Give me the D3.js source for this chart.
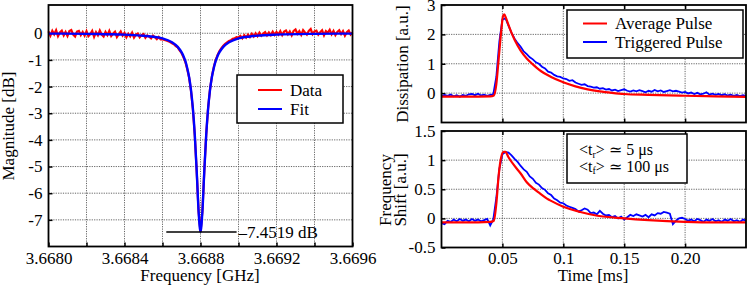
<!DOCTYPE html>
<html><head><meta charset="utf-8">
<script src="https://cdn.jsdelivr.net/npm/d3@7"></script>
<style>
body{margin:0;background:#fff;}
svg{display:block;}
svg text{font-family:"Liberation Serif","DejaVu Serif",serif;fill:#000;}
.grid line{stroke:#555;stroke-width:0.9;stroke-dasharray:1.2,1.2;}
.axis text{font-size:17px;}
.axis path{display:none;}
.axis line{stroke:#000;stroke-width:1.5;}
</style></head>
<body>
<svg id="c" width="747" height="286"></svg>
<script>
// ---------------- DATA ----------------
// Left panel: measured |S21| (dB), sampled from 3.6680 GHz in steps of 0.00001 GHz
const freqStart = 3.6680;
const freqStep = 0.00001;
const dataDb = [
  0.07,-0.09,0.09,-0.04,0.11,-0.11,0.03,0.10,-0.08,0.05,-0.10,0.08,0.12,-0.05,-0.12,0.06,0.09,-0.07,0.05,-0.09,
  0.08,-0.11,-0.03,0.09,-0.13,0.04,-0.08,0.10,-0.05,-0.12,0.05,-0.07,0.09,-0.10,-0.01,0.06,-0.14,-0.03,0.07,-0.09,
  0.01,-0.15,-0.02,-0.12,0.02,-0.16,-0.05,-0.01,-0.15,-0.07,-0.03,-0.17,-0.08,-0.13,-0.19,-0.09,-0.15,-0.22,-0.14,-0.23,
  -0.22,-0.25,-0.27,-0.30,-0.33,-0.38,-0.41,-0.48,-0.53,-0.64,
  -0.74,-0.89,-1.07,-1.34,-1.66,-2.16,-2.85,-3.84,-5.18,-6.70,
  -7.45,
  -6.68,-5.16,-3.80,-2.81,-2.11,-1.62,-1.27,-1.01,-0.81,-0.67,
  -0.56,-0.47,-0.40,-0.34,-0.29,-0.26,-0.21,-0.19,-0.15,-0.16,
  -0.10,-0.19,-0.07,-0.16,-0.05,-0.14,-0.02,-0.12,0.00,-0.11,0.02,-0.09,-0.01,0.04,-0.08,0.03,-0.07,0.06,-0.06,0.05,
  -0.05,0.08,-0.07,0.06,0.10,-0.04,0.07,-0.08,0.09,0.14,-0.02,0.08,-0.06,0.12,0.03,-0.05,0.09,0.16,-0.03,0.07,
  0.10,-0.05,0.04,0.11,-0.08,0.08,0.02,0.13,-0.04,0.09,-0.07,0.05,0.11,-0.03,0.08,-0.09,0.04,0.10,-0.05,0.03
];
// Left panel: Lorentzian fit
const fitFreq = [3.66800,3.66820,3.66830,3.66840,3.66849,3.66855,3.66860,3.66865,3.66868,3.66870,3.66871,3.66872,3.66873,
  3.66874,3.66875,3.66876,3.66877,3.66878,3.66879,3.66880,3.66881,3.66882,3.66883,3.66884,3.66885,3.66886,3.66887,
  3.66888,3.66889,3.66890,3.66892,3.66895,3.66900,3.66906,3.66910,3.66920,3.66940,3.66960];
const fitDb = [-0.013,-0.022,-0.035,-0.05,-0.088,-0.13,-0.19,-0.34,-0.51,-0.71,-0.85,-1.04,-1.30,
  -1.64,-2.13,-2.83,-3.82,-5.17,-6.68,-7.4519,-6.68,-5.17,-3.82,-2.83,-2.13,-1.64,-1.30,
  -1.04,-0.85,-0.71,-0.51,-0.34,-0.19,-0.12,-0.088,-0.05,-0.022,-0.013];
const minMarkDb = -7.4519;
const minMarkFreq = [3.66862, 3.66899];

// Right panels: triggered pulse, sampled from 0 ms in steps of 0.0025 ms
const timeStart = 0;
const timeStep = 0.0025;
const trigDiss = [
  -0.10,-0.06,-0.09,-0.05,-0.11,-0.07,-0.12,-0.06,-0.09,-0.04,-0.03,-0.07,-0.02,-0.08,-0.05,-0.09,-0.06,-0.04,
  0.55,1.75,2.50,2.55,2.30,2.05,1.85,1.70,1.58,1.42,1.33,1.22,1.15,1.05,1.00,0.90,0.84,0.73,0.70,0.62,0.57,0.55,
  0.50,0.48,0.42,0.44,0.36,0.32,0.28,0.30,0.24,0.22,0.19,0.20,0.15,0.17,0.12,0.14,0.09,0.12,0.07,0.10,
  0.13,0.08,0.05,0.09,0.06,0.10,0.07,0.03,0.08,0.05,0.11,0.06,0.09,0.04,0.07,0.10,0.06,0.08,0.05,0.02,
  0.04,-0.01,0.02,-0.03,0.01,-0.04,-0.02,0.03,-0.05,-0.02,-0.06,-0.03,-0.07,-0.04,-0.08,-0.05,-0.09,-0.06,-0.10,-0.07,-0.09
];
const trigFreq = [
  -0.08,-0.10,-0.04,-0.06,-0.02,-0.05,-0.01,-0.04,-0.02,-0.05,-0.01,-0.04,-0.02,-0.05,-0.03,-0.01,-0.12,-0.02,
  0.35,0.85,1.10,1.14,1.13,1.08,1.02,0.97,0.90,0.84,0.80,0.72,0.68,0.61,0.58,0.52,0.49,0.43,0.40,0.34,0.31,0.27,
  0.26,0.22,0.20,0.18,0.16,0.12,0.14,0.17,0.15,0.09,0.10,0.07,0.13,0.08,0.05,0.06,0.02,0.04,0.00,0.03,
  -0.02,0.02,0.06,0.04,0.07,0.05,0.03,0.06,0.02,0.07,0.05,0.09,0.08,0.11,0.10,0.08,-0.10,-0.04,0.00,0.01,
  -0.01,-0.04,-0.02,-0.05,-0.01,-0.03,-0.06,-0.02,-0.04,-0.01,-0.05,-0.03,-0.06,-0.02,-0.04,-0.01,-0.05,-0.03,-0.06,-0.02,-0.04
];
// Right panels: average pulse
const avgDissT = [0,0.02,0.04,0.043,0.045,0.047,0.049,0.0505,0.0515,0.053,0.055,0.0575,0.06,0.065,0.07,0.075,0.08,0.09,0.1,0.11,0.12,0.13,0.14,0.15,0.17,0.2,0.225,0.25];
const avgDiss = [-0.12,-0.12,-0.11,-0.08,0.3,1.2,2.1,2.62,2.68,2.55,2.32,2.05,1.82,1.45,1.18,0.98,0.80,0.55,0.37,0.23,0.13,0.06,0.01,-0.03,-0.06,-0.09,-0.11,-0.13];
const avgFreqT = [0,0.02,0.04,0.043,0.045,0.047,0.049,0.051,0.0525,0.055,0.06,0.065,0.07,0.0757,0.08,0.0866,0.09,0.1,0.114,0.128,0.15,0.17,0.2,0.225,0.25];
const avgFreq = [-0.07,-0.07,-0.06,-0.04,0.25,0.75,1.05,1.14,1.14,1.05,0.90,0.77,0.62,0.51,0.44,0.34,0.30,0.20,0.11,0.045,0.0,-0.03,-0.06,-0.07,-0.07];

// Ticks
const freqTicks = [3.6680,3.6682,3.6684,3.6686,3.6688,3.6690,3.6692,3.6694,3.6696];
const magTicks = [-7,-6,-5,-4,-3,-2,-1,0];
const timeTicks = [0.05,0.1,0.15,0.2];
const timeTickLabels = ["0.05","0.1","0.15","0.20"];
const dissTicks = [0,1,2,3];
const shiftTicks = [-0.5,0,0.5,1,1.5];
const shiftTickLabels = ["-0.5","0","0.5","1","1.5"];

// ---------------- DRAW ----------------
const svg = d3.select("#c");
const RED = "#ff0000", BLUE = "#0000ff";
const FS = 17;

function panel(x, y, xGrid, yGrid) {
  const g = svg.append("g");
  const [x0, x1] = x.range(), [y0, y1] = y.range();
  const grid = g.append("g").attr("class", "grid");
  grid.selectAll(".gx").data(xGrid).join("line")
    .attr("x1", d => x(d)).attr("x2", d => x(d)).attr("y1", y0).attr("y2", y1);
  grid.selectAll(".gy").data(yGrid).join("line")
    .attr("y1", d => y(d)).attr("y2", d => y(d)).attr("x1", x0).attr("x2", x1);
  return g;
}
function frame(x, y) {
  const [x0, x1] = x.range(), [y0, y1] = y.range();
  svg.append("rect").attr("x", x0).attr("y", y1).attr("width", x1 - x0).attr("height", y0 - y1)
    .attr("fill", "none").attr("stroke", "#000").attr("stroke-width", 1.8);
}

// ----- Left panel -----
const xL = d3.scaleLinear([3.6680, 3.6696], [48.5, 352.5]);
const yL = d3.scaleLinear([-8, 1.06], [246.5, 5]);
panel(xL, yL, freqTicks.slice(1, -1), magTicks);

svg.append("g").attr("class", "axis").attr("transform", `translate(0,${yL.range()[0]})`)
  .call(d3.axisBottom(xL).tickValues(freqTicks).tickSize(-4).tickPadding(5)
    .tickFormat(d => (Math.round(d * 1e4) % 4 === 0) ? d.toFixed(4) : ""));
svg.append("g").attr("class", "axis").attr("transform", `translate(${xL.range()[0]},0)`)
  .call(d3.axisLeft(yL).tickValues(magTicks).tickSize(-4).tickPadding(6).tickFormat(d => String(d)));

const dataPts = dataDb.map((v, i) => [freqStart + i * freqStep, v]);
svg.append("path").datum(dataPts).attr("fill", "none").attr("stroke", RED).attr("stroke-width", 2.2)
  .attr("d", d3.line().x(d => xL(d[0])).y(d => yL(d[1])));
const fitPts = fitFreq.map((f, i) => [f, fitDb[i]]);
svg.append("path").datum(fitPts).attr("fill", "none").attr("stroke", BLUE).attr("stroke-width", 2.4)
  .attr("d", d3.line().x(d => xL(d[0])).y(d => yL(d[1])).curve(d3.curveMonotoneX));
// minimum marker
svg.append("line").attr("x1", xL(minMarkFreq[0])).attr("x2", xL(minMarkFreq[1]))
  .attr("y1", yL(minMarkDb)).attr("y2", yL(minMarkDb)).attr("stroke", "#000").attr("stroke-width", 1.5);
svg.append("text").attr("x", xL(minMarkFreq[1]) + 2).attr("y", yL(minMarkDb)).attr("dy", "0.35em")
  .attr("font-size", FS).text("\u2013" + Math.abs(minMarkDb).toFixed(4) + " dB");
frame(xL, yL);

// legend left
const legL = svg.append("g");
legL.append("rect").attr("x", 237).attr("y", 75).attr("width", 106).attr("height", 48)
  .attr("fill", "#fff").attr("stroke", "#000").attr("stroke-width", 1.5);
[["Data", RED, 90], ["Fit", BLUE, 109]].forEach(([t, c, yy]) => {
  legL.append("line").attr("x1", 258).attr("x2", 282).attr("y1", yy).attr("y2", yy).attr("stroke", c).attr("stroke-width", 2);
  legL.append("text").attr("x", 290).attr("y", yy).attr("dy", "0.35em").attr("font-size", FS).text(t);
});

svg.append("text").attr("transform", "translate(8,126) rotate(-90)").attr("text-anchor", "middle")
  .attr("dy", "0.35em").attr("font-size", FS).text("Magnitude [dB]");
svg.append("text").attr("x", 200).attr("y", 281).attr("text-anchor", "middle")
  .attr("font-size", FS).text("Frequency [GHz]");

// ----- Right top panel -----
const xR = d3.scaleLinear([0, 0.25], [441.5, 746]);
const yT = d3.scaleLinear([-1, 3], [122.5, 5]);
panel(xR, yT, timeTicks, [0, 1, 2]);
svg.append("g").attr("class", "axis").attr("transform", `translate(${xR.range()[0]},0)`)
  .call(d3.axisLeft(yT).tickValues(dissTicks).tickSize(-4).tickPadding(6).tickFormat(d => String(d)));
svg.append("g").attr("class", "axis").attr("transform", `translate(0,${yT.range()[0]})`)
  .call(d3.axisBottom(xR).tickValues(timeTicks).tickSize(-4).tickFormat(""));
svg.append("g").attr("class", "axis").attr("transform", `translate(0,${yT.range()[1]})`)
  .call(d3.axisTop(xR).tickValues(timeTicks).tickSize(-4).tickFormat(""));

const lineT = d3.line().x(d => xR(d[0])).y(d => yT(d[1]));
svg.append("path").datum(trigDiss.map((v, i) => [timeStart + i * timeStep, v]))
  .attr("fill", "none").attr("stroke", BLUE).attr("stroke-width", 1.8).attr("d", lineT);
svg.append("path").datum(avgDissT.map((t, i) => [t, avgDiss[i]]))
  .attr("fill", "none").attr("stroke", RED).attr("stroke-width", 2.2).attr("d", lineT.curve(d3.curveMonotoneX));
frame(xR, yT);

const legR = svg.append("g");
legR.append("rect").attr("x", 567).attr("y", 10).attr("width", 176).attr("height", 48)
  .attr("fill", "#fff").attr("stroke", "#000").attr("stroke-width", 1.5);
[["Average Pulse", RED, 23.5], ["Triggered Pulse", BLUE, 42]].forEach(([t, c, yy]) => {
  legR.append("line").attr("x1", 583).attr("x2", 607).attr("y1", yy).attr("y2", yy).attr("stroke", c).attr("stroke-width", 2);
  legR.append("text").attr("x", 615).attr("y", yy).attr("dy", "0.35em").attr("font-size", FS).text(t);
});
svg.append("text").attr("transform", "translate(402,64) rotate(-90)").attr("text-anchor", "middle")
  .attr("dy", "0.35em").attr("font-size", FS).text("Dissipation [a.u.]");

// ----- Right bottom panel -----
const yB = d3.scaleLinear([-0.5, 1.5], [247.5, 131]);
panel(xR, yB, timeTicks, [0, 0.5, 1]);
svg.append("g").attr("class", "axis").attr("transform", `translate(${xR.range()[0]},0)`)
  .call(d3.axisLeft(yB).tickValues(shiftTicks).tickSize(-4).tickPadding(6).tickFormat((d, i) => shiftTickLabels[i]));
svg.append("g").attr("class", "axis").attr("transform", `translate(0,${yB.range()[0]})`)
  .call(d3.axisBottom(xR).tickValues(timeTicks).tickSize(-4).tickPadding(4).tickFormat((d, i) => timeTickLabels[i]));
svg.append("g").attr("class", "axis").attr("transform", `translate(0,${yB.range()[1]})`)
  .call(d3.axisTop(xR).tickValues(timeTicks).tickSize(-4).tickFormat(""));

const lineB = d3.line().x(d => xR(d[0])).y(d => yB(d[1]));
svg.append("path").datum(trigFreq.map((v, i) => [timeStart + i * timeStep, v]))
  .attr("fill", "none").attr("stroke", BLUE).attr("stroke-width", 1.8).attr("d", lineB);
svg.append("path").datum(avgFreqT.map((t, i) => [t, avgFreq[i]]))
  .attr("fill", "none").attr("stroke", RED).attr("stroke-width", 2.2).attr("d", lineB.curve(d3.curveMonotoneX));
frame(xR, yB);

const box = svg.append("g");
box.append("rect").attr("x", 567).attr("y", 134).attr("width", 120).attr("height", 49)
  .attr("fill", "#fff").attr("stroke", "#000").attr("stroke-width", 1.5);
[["r", "5", 149.5], ["f", "100", 166]].forEach(([s, v, yy]) => {
  const t = box.append("text").attr("x", 579).attr("y", yy).attr("dy", "0.35em").attr("font-size", 16);
  t.append("tspan").text("<t");
  t.append("tspan").attr("font-size", 10).attr("dy", "2.5").text(s);
  t.append("tspan").attr("dy", "-2.5").text("> \u2243 " + v + " \u03bcs");
});

svg.append("text").attr("transform", "translate(385,190) rotate(-90)").attr("text-anchor", "middle")
  .attr("dy", "0.35em").attr("font-size", FS).text("Frequency");
svg.append("text").attr("transform", "translate(400,190) rotate(-90)").attr("text-anchor", "middle")
  .attr("dy", "0.35em").attr("font-size", FS).text("Shift [a.u.]");
svg.append("text").attr("x", 593).attr("y", 281).attr("text-anchor", "middle")
  .attr("font-size", FS).text("Time [ms]");
</script>
</body></html>
